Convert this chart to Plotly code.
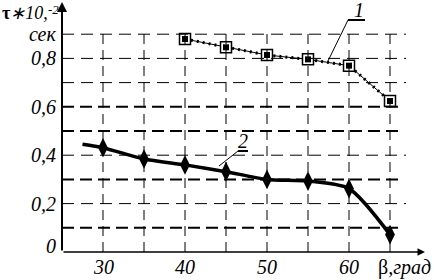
import plotly.graph_objects as go

# ---- data ----
x1 = [40, 45, 50, 55, 60, 65]
y1 = [0.880, 0.846, 0.814, 0.796, 0.770, 0.624]

x2_line = [27.5, 30, 35, 40, 45, 50, 55, 60, 65]
y2_line = [0.445, 0.431, 0.384, 0.360, 0.332, 0.300, 0.293, 0.262, 0.072]
x2 = [30, 35, 40, 45, 50, 55, 60, 65]
y2 = [0.431, 0.384, 0.360, 0.332, 0.300, 0.293, 0.262, 0.072]

xtick_vals = [30, 40, 50, 60]
xtick_text = ["30", "40", "50", "60"]
ytick_vals = [0, 0.2, 0.4, 0.6, 0.8, 0.9]
ytick_text = ["0", "0,2", "0,4", "0,6", "0,8", "сек"]

vgrid = [30, 35, 40, 45, 50, 55, 60, 65]
hgrid_thin = [0.2, 0.4, 0.7, 0.8, 0.9]
hgrid_thick = [0.1, 0.3, 0.5, 0.6]

# ---- layout geometry ----
W, H = 434, 280
L, B = 62, 28
PXX = 8.2     # px per x unit
PXY = 242.0   # px per y unit
X0 = 25
xr = [X0, X0 + (W - L) / PXX]
yr = [0, (H - B) / PXY]

def px2x(px):
    return X0 + (px - L) / PXX

def py2y(py):
    return (H - B - py) / PXY

def px2paper(px):
    return (px - L) / (W - L)

def py2paper(py):
    return (H - B - py) / (H - B)

FONT = "Liberation Serif"
fig = go.Figure()

shapes = []
for v in vgrid:
    shapes.append(dict(type="line", x0=v, x1=v, y0=0, y1=py2y(33), xref="x", yref="y",
                       line=dict(color="black", width=1, dash="10px,6px")))
for h in hgrid_thin:
    shapes.append(dict(type="line", x0=X0, x1=px2x(406), y0=h, y1=h, xref="x", yref="y",
                       line=dict(color="black", width=1, dash="12px,7px")))
for h in hgrid_thick:
    shapes.append(dict(type="line", x0=X0, x1=px2x(401), y0=h, y1=h, xref="x", yref="y",
                       line=dict(color="black", width=2, dash="12px,6px")))
# leader lines
shapes.append(dict(type="line", x0=px2x(328), y0=py2y(61), x1=px2x(348), y1=py2y(20),
                   line=dict(color="black", width=1)))
shapes.append(dict(type="line", x0=px2x(348), y0=py2y(20), x1=px2x(365), y1=py2y(20),
                   line=dict(color="black", width=2)))
shapes.append(dict(type="line", x0=px2x(219), y0=py2y(166), x1=px2x(238), y1=py2y(151),
                   line=dict(color="black", width=1)))
shapes.append(dict(type="line", x0=px2x(238), y0=py2y(151), x1=px2x(248), y1=py2y(151),
                   line=dict(color="black", width=2)))

# curve 1
fig.add_trace(go.Scatter(x=x1, y=y1, mode="lines", line=dict(color="black", width=1),
                         hoverinfo="skip", showlegend=False))
fig.add_trace(go.Scatter(x=x1, y=y1, mode="lines", line=dict(color="black", width=3, dash="2px,4px"),
                         hoverinfo="skip", showlegend=False))
fig.add_trace(go.Scatter(x=x1, y=y1, mode="markers",
                         marker=dict(symbol="square", size=11, color="white",
                                     line=dict(color="black", width=1.5)),
                         showlegend=False))
fig.add_trace(go.Scatter(x=x1, y=y1, mode="markers",
                         marker=dict(symbol="square", size=6, color="black"),
                         showlegend=False))

# curve 2
fig.add_trace(go.Scatter(x=x2_line, y=y2_line, mode="lines",
                         line=dict(color="black", width=3.5, shape="spline", smoothing=0.7),
                         hoverinfo="skip", showlegend=False))
fig.add_trace(go.Scatter(x=x2, y=y2, mode="markers",
                         marker=dict(symbol="diamond-tall", size=14, color="black"),
                         showlegend=False))

ann = []
# axes with arrows
ann.append(dict(x=X0, y=py2y(2), ax=X0, ay=0, xref="x", yref="y", axref="x", ayref="y",
                showarrow=True, arrowhead=2, arrowsize=1, arrowwidth=2, text="", arrowcolor="black"))
ann.append(dict(x=px2x(425), y=0, ax=X0, ay=0, xref="x", yref="y", axref="x", ayref="y",
                showarrow=True, arrowhead=2, arrowsize=1, arrowwidth=1.5, text="", arrowcolor="black"))

for v, t in zip(xtick_vals, xtick_text):
    ann.append(dict(x=v, y=0, xref="x", yref="y", text="<i>%s</i>" % t, showarrow=False,
                    yanchor="middle", yshift=-15, font=dict(family=FONT, size=20, color="black")))
ann.append(dict(x=px2x(404), y=0, xref="x", yref="y", text="β<i>,град</i>", showarrow=False,
                yanchor="middle", yshift=-15, font=dict(family=FONT, size=20, color="black")))

for v, t in zip(ytick_vals, ytick_text):
    ann.append(dict(x=X0, y=v, xref="x", yref="y", text="<i>%s</i>" % t, showarrow=False,
                    xanchor="right", xshift=-4, yshift=(6 if v == 0 else 0),
                    font=dict(family=FONT, size=20, color="black")))

# title (paper coords so it is not hidden outside the axis range)
ann.append(dict(x=px2paper(0), y=py2paper(13), xref="paper", yref="paper",
                text="<b>τ</b><i>∗10,</i>", showarrow=False,
                xanchor="left", yanchor="middle", font=dict(family=FONT, size=18, color="black")))
ann.append(dict(x=px2paper(46), y=py2paper(0), xref="paper", yref="paper", text="<i>-2</i>",
                showarrow=False, xanchor="left", yanchor="top",
                font=dict(family=FONT, size=13, color="black")))

# curve labels
ann.append(dict(x=px2x(359), y=py2y(10), xref="x", yref="y", text="<i>1</i>", showarrow=False,
                font=dict(family=FONT, size=20, color="black")))
ann.append(dict(x=px2x(243), y=py2y(141), xref="x", yref="y", text="<i>2</i>", showarrow=False,
                font=dict(family=FONT, size=20, color="black")))

fig.update_layout(
    width=W, height=H,
    margin=dict(l=L, r=0, t=0, b=B),
    paper_bgcolor="white", plot_bgcolor="white",
    font=dict(family=FONT),
    xaxis=dict(range=xr, visible=False, fixedrange=True),
    yaxis=dict(range=yr, visible=False, fixedrange=True),
    shapes=shapes, annotations=ann,
)
fig.write_html("out.html", config={"displayModeBar": False},
               post_script="document.body.style.margin='0';document.body.style.overflow='hidden';")
